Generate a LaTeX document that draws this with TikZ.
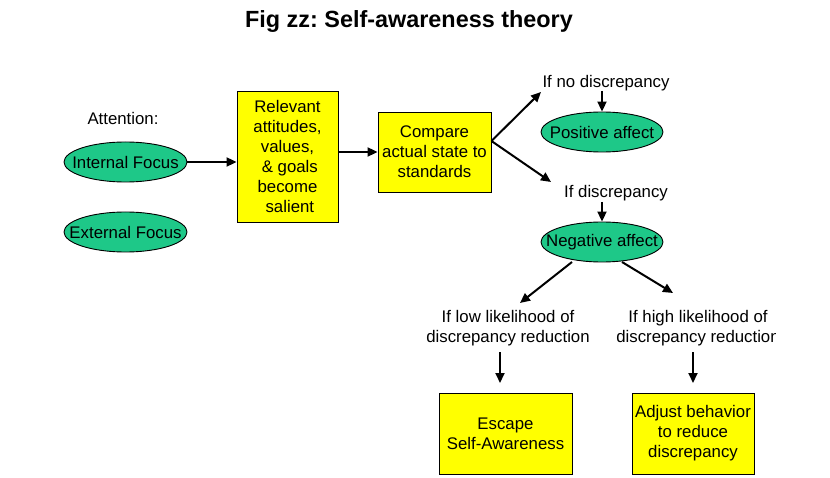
\documentclass[tikz,border=0pt]{standalone}
\usepackage{fontspec}
\setmainfont{Liberation Sans}
\frenchspacing
\usetikzlibrary{shapes.geometric,arrows.meta}
\definecolor{ovalgreen}{RGB}{30,200,136}
\definecolor{boxyellow}{RGB}{255,255,0}
\tikzset{
  txt/.style={font=\fontsize{16.8}{20}\selectfont, inner sep=0pt, align=center},
  oval/.style={ellipse, draw=black, line width=0.9pt, fill=ovalgreen, inner sep=0pt, minimum width=123pt, minimum height=40pt},
  ybox/.style={rectangle, draw=black, line width=0.9pt, fill=boxyellow, inner sep=0pt, align=center, font=\fontsize{16.8}{20}\selectfont},
  arr/.style={line width=2pt, -{Triangle[length=10pt,width=9pt]}},
}
\begin{document}
\begin{tikzpicture}[x=1pt,y=-1pt]
\useasboundingbox (0,0) rectangle (830,478);
\fill[white] (0,0) rectangle (830,478);
\node[font=\fontsize{23.4}{26}\selectfont\bfseries, inner sep=0pt] (title) at (409,22) {Fig zz: Self-awareness theory};
\node[txt] (attn) at (123,118) {Attention:};
\node[oval] (int) at (125.5,162) {};
\node[txt] (intT) at (int.center) {Internal Focus};
\node[oval] (ext) at (125.5,232) {};
\node[txt] (extT) at (ext.center) {External Focus};
\node[ybox, minimum width=101pt, minimum height=131pt] (rel) at (287.5,156.5) {Relevant\\attitudes,\\values,\\\ \& goals\\become\\\ salient};
\node[ybox, minimum width=113pt, minimum height=80pt] (cmp) at (434.5,152) {Compare\\actual state to\\standards};
\node[txt] (nodisc) at (606,83) {If no discrepancy};
\node[oval, minimum width=122pt] (pos) at (602,132) {};
\node[txt] (posT) at (pos.center) {Positive affect};
\node[txt] (disc) at (616,193) {If discrepancy};
\node[oval, minimum width=122pt] (neg) at (602,242) {};
\node[txt] (negT) at (neg.center) {Negative affect};
\node[txt] (low) at (508,328.5) {If low likelihood of\\discrepancy reduction};
\begin{scope}
\clip (0,0) rectangle (775,478);
\node[txt] (high) at (698,328.5) {If high likelihood of\\discrepancy reduction};
\end{scope}
\node[ybox, minimum width=133pt, minimum height=81pt] (esc) at (505.5,433.5) {Escape\\Self-Awareness};
\node[ybox, minimum width=122pt, minimum height=81pt] (adj) at (693,433.5) {Adjust behavior\\to reduce\\discrepancy};
\coordinate (upTip) at (541,92);
\coordinate (dnTip) at (551,182);
\coordinate (nlS) at (572,262);
\coordinate (nlT) at (520,303);
\coordinate (nrS) at (622,262);
\coordinate (nrT) at (673,293);
\coordinate (lowS) at (500,352);
\coordinate (lowT) at (500,383);
\coordinate (highS) at (693,352);
\coordinate (highT) at (693,383);
\draw[arr] (int.east) -- (rel.west |- int.east);
\draw[arr] (rel.east |- cmp.west) -- (cmp.west);
\draw[arr] ([yshift=11pt]cmp.east) -- (upTip);
\draw[arr] ([yshift=11pt]cmp.east) -- (dnTip);
\draw[arr] (pos.north |- 0,91) -- (pos.north);
\draw[arr] (neg.north |- 0,202) -- (neg.north);
\draw[arr] (nlS) -- (nlT);
\draw[arr] (nrS) -- (nrT);
\draw[arr] (lowS) -- (lowT);
\draw[arr] (highS) -- (highT);
\end{tikzpicture}
\end{document}
